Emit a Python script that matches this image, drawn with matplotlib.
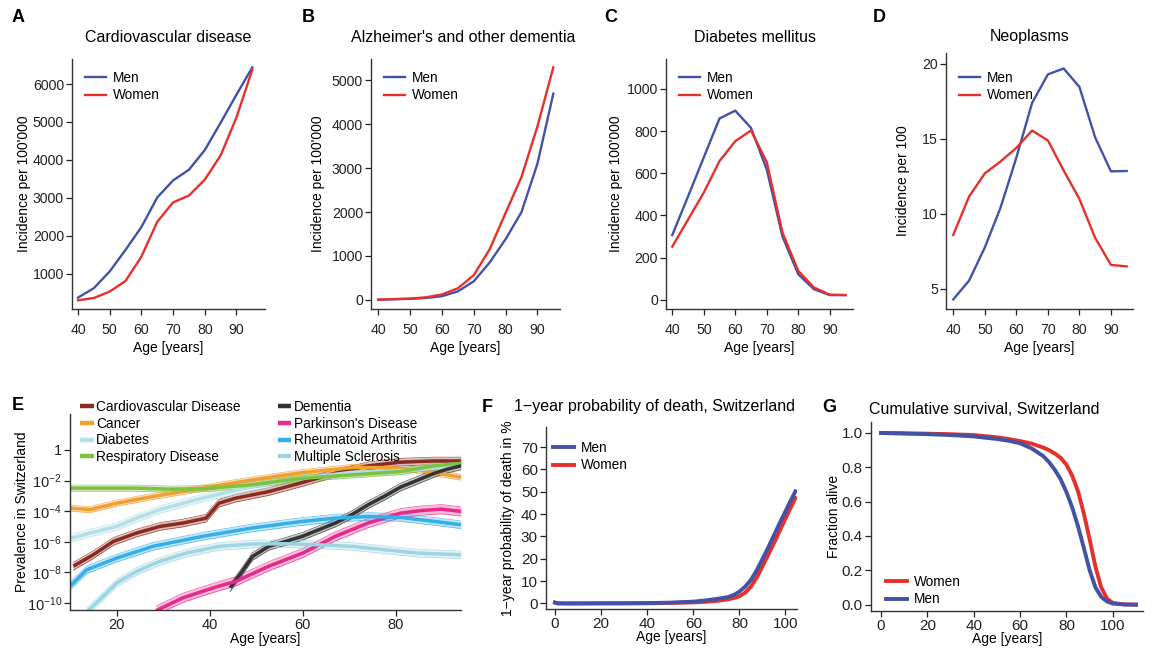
import numpy as np
import matplotlib
matplotlib.use("Agg")
from matplotlib import pyplot as plt

plt.rcParams['font.family'] = ['Liberation Sans', 'DejaVu Sans']
plt.rcParams['mathtext.default'] = 'regular'
plt.rcParams['axes.unicode_minus'] = True

BLUE = '#4252a6'
RED = '#e8302a'

# ---- incidence panels (A-D)
ages5 = [40, 45, 50, 55, 60, 65, 70, 75, 80, 85, 90, 95]

cvd_men = [370, 620, 1060, 1630, 2230, 3010, 3460, 3740, 4260, 4980, 5720, 6440]
cvd_women = [300, 360, 530, 810, 1450, 2370, 2880, 3060, 3480, 4120, 5120, 6380]

dem_men = [0, 10, 20, 40, 80, 190, 420, 850, 1380, 2000, 3100, 4700]
dem_women = [0, 15, 25, 55, 120, 260, 560, 1150, 1980, 2800, 3950, 5300]

dia_men = [307, 490, 675, 860, 897, 815, 618, 300, 121, 50, 22, 22]
dia_women = [252, 380, 508, 658, 752, 803, 653, 318, 137, 58, 24, 22]

neo_men = [4.3, 5.55, 7.76, 10.42, 13.75, 17.4, 19.3, 19.7, 18.47, 15.1, 12.84, 12.86]
neo_women = [8.6, 11.15, 12.7, 13.5, 14.4, 15.56, 14.9, 12.9, 11.0, 8.4, 6.6, 6.5]

# ---- prevalence panel (E), values are log10(prevalence)
e_cvd_age = [10.7, 15, 19.3, 24.3, 29.3, 34.2, 39.2, 42, 45.6, 52.7, 59.9, 67, 74, 81, 88, 94]
e_cvd = [-7.6, -6.85, -5.98, -5.43, -5.0, -4.78, -4.46, -3.48, -3.15, -2.72, -2.13, -1.52, -1.04, -0.8, -0.72, -0.72]

e_can_age = [10, 14.3, 20, 27.8, 38.4, 49.1, 59.9, 70.5, 77.6, 84.7, 94]
e_can = [-3.8, -3.9, -3.48, -3.04, -2.5, -1.96, -1.48, -1.15, -1.15, -1.3, -1.78]

e_dia_age = [10, 14.3, 20, 24.3, 29.3, 38.4, 49.1, 59.9, 70.5, 77.6, 84.7, 94]
e_dia = [-5.8, -5.43, -5.0, -4.46, -3.9, -3.15, -2.4, -1.85, -1.46, -1.41, -1.3, -0.98]

e_res_age = [10, 24.3, 31.4, 38.4, 49.1, 59.9, 70.5, 81, 88.3, 94]
e_res = [-2.5, -2.5, -2.56, -2.54, -2.28, -1.85, -1.63, -1.41, -1.04, -0.87]

e_dem_age = [44.4, 47, 49.2, 52.7, 56.3, 59.9, 63.4, 67, 70.5, 74, 77.7, 81, 84.8, 88.3, 91, 94]
e_dem = [-9.0, -7.93, -6.96, -6.3, -5.98, -5.65, -5.22, -4.78, -4.24, -3.59, -3.0, -2.43, -1.96, -1.52, -1.26, -1.04]

e_par_age = [28.5, 34.2, 38.5, 42, 45.6, 52.7, 60, 67, 74, 81, 85.5, 89.8, 94]
e_par = [-10.5, -9.67, -9.24, -8.9, -8.59, -7.6, -6.74, -5.65, -4.78, -4.13, -3.96, -3.87, -4.02]

e_ra_age = [10, 13.6, 20, 27.8, 38.4, 49.1, 59.9, 67, 74, 81, 88.3, 94]
e_ra = [-8.9, -7.83, -7.07, -6.3, -5.65, -5.1, -4.67, -4.46, -4.35, -4.41, -4.67, -4.89]

e_ms_age = [13.6, 20, 24.3, 29.3, 35, 42, 49.1, 56.3, 63.4, 70.5, 77.6, 84.7, 94]
e_ms = [-10.6, -8.7, -7.93, -7.28, -6.74, -6.3, -6.15, -6.13, -6.2, -6.3, -6.52, -6.74, -6.85]

# ---- mortality (F) and survival (G)
f_age = [0, 1, 5, 10, 20, 30, 40, 50, 60, 65, 70, 75, 78, 80, 82.5, 85, 87.5, 90, 92.5, 95, 97.5, 100, 102, 104.3]
f_men = [0.4, 0.05, 0.0, 0.0, 0.05, 0.07, 0.15, 0.35, 0.8, 1.3, 2.0, 2.8, 4.0, 5.3, 7.5, 10.5, 14.8, 19.8, 25.0, 30.5, 36.0, 41.2, 45.5, 50.2]
f_women = [0.35, 0.04, 0.0, 0.0, 0.02, 0.03, 0.08, 0.2, 0.45, 0.7, 1.1, 1.8, 2.5, 3.2, 4.8, 7.5, 11.5, 16.5, 21.8, 27.0, 32.5, 38.0, 42.3, 47.2]

g_age = [0, 10, 20, 30, 40, 50, 55, 60, 65, 70, 72.5, 75, 77.5, 80, 82.5, 85, 87.5, 90, 92.5, 95, 97.5, 100, 105, 110]
g_women = [1.0, 0.998, 0.996, 0.993, 0.988, 0.975, 0.965, 0.953, 0.938, 0.915, 0.9, 0.88, 0.855, 0.815, 0.75, 0.66, 0.53, 0.38, 0.22, 0.1, 0.035, 0.01, 0.001, 0.0]
g_men = [1.0, 0.997, 0.993, 0.988, 0.98, 0.965, 0.955, 0.94, 0.91, 0.865, 0.83, 0.785, 0.73, 0.655, 0.565, 0.455, 0.33, 0.2, 0.1, 0.045, 0.018, 0.006, 0.001, 0.0]

W, H = 1152, 659
fig = plt.figure(figsize=(W / 100, H / 100), dpi=100)


def add_ax(l, t, r, b, tsize, xpad):
    ax = fig.add_axes([l / W, 1 - b / H, (r - l) / W, (b - t) / H])
    for s in ['top', 'right']:
        ax.spines[s].set_visible(False)
    for s in ['left', 'bottom']:
        ax.spines[s].set_color('#333333')
        ax.spines[s].set_linewidth(1.0)
    ax.tick_params(colors='#222222', length=4.3, width=0.9, labelsize=tsize)
    ax.tick_params(axis='x', pad=xpad)
    ax.tick_params(axis='y', pad=1.5)
    return ax


def label(x, y, s):
    fig.text(x / W, 1 - y / H, s, fontsize=13, fontweight='bold', ha='left', va='center')


def title(x, y, s):
    fig.text(x / W, 1 - y / H, s, fontsize=11.5, ha='center', va='center')


LEG = dict(frameon=False, fontsize=9.8, handlelength=1.55, handletextpad=0.5,
           labelspacing=0.25, borderaxespad=0, borderpad=0)

top = [
    ((72, 59, 265, 309), cvd_men, cvd_women, (70, 6660), range(1000, 7000, 1000),
     (38.1, 99), "Incidence per 100'000", 'Cardiovascular disease', 168, 'A', 12, 1.5),
    ((371, 59, 560, 309), dem_men, dem_women, (-212, 5490), range(0, 6000, 1000),
     (37.7, 97.1), "Incidence per 100'000", "Alzheimer's and other dementia", 463, 'B', 302, 5),
    ((666, 59, 853, 309), dia_men, dia_women, (-44, 1142), range(0, 1200, 200),
     (38, 97.4), "Incidence per 100'000", 'Diabetes mellitus', 755, 'C', 604, 2.5),
    ((946, 53, 1133, 309), neo_men, neo_women, (3.66, 20.73), [5, 10, 15, 20],
     (37.7, 97), 'Incidence per 100', 'Neoplasms', 1030, 'D', 873, 9),
]

for rect, men, women, ylim, yt, xlim, ylab, ttl, tx, let, lx, ylp in top:
    ax = add_ax(*rect, tsize=10.2, xpad=5.5)
    ax.plot(ages5, men, color=BLUE, lw=1.7, label='Men')
    ax.plot(ages5, women, color=RED, lw=1.7, label='Women')
    ax.set_xlim(*xlim)
    ax.set_ylim(*ylim)
    ax.set_xticks(range(40, 100, 10))
    ax.set_yticks(list(yt))
    ax.set_xlabel('Age [years]', fontsize=10, labelpad=3)
    ax.set_ylabel(ylab, fontsize=10, labelpad=ylp)
    l0 = rect[0]
    ax.legend(loc='upper left', bbox_to_anchor=((l0 + 13) / W, 1 - 71 / H),
              bbox_transform=fig.transFigure, **LEG)
    title(tx, 37, ttl)
    label(lx, 17, let)

# ---- panel E
ax = add_ax(70, 414, 461, 610, tsize=10.5, xpad=1.5)
series = [
    ('Cardiovascular Disease', e_cvd_age, e_cvd, '#8b2a20', 0.25),
    ('Cancer', e_can_age, e_can, '#f0a030', 0.2),
    ('Diabetes', e_dia_age, e_dia, '#b3dfe9', 0.25),
    ('Respiratory Disease', e_res_age, e_res, '#7dc242', 0.2),
    ('Dementia', e_dem_age, e_dem, '#333333', 0.25),
    ("Parkinson's Disease", e_par_age, e_par, '#e8288a', 0.3),
    ('Rheumatoid Arthritis', e_ra_age, e_ra, '#36aee8', 0.25),
    ('Multiple Sclerosis', e_ms_age, e_ms, '#9ed5e0', 0.25),
]
for name, a, v, c, hw in series:
    a = np.array(a)
    v = np.array(v)
    lo = 10 ** (v - hw)
    hi = 10 ** (v + hw)
    ax.fill_between(a, lo, hi, color=c, alpha=0.3, lw=0)
    ax.plot(a, lo, color=c, lw=0.5, alpha=0.8)
    ax.plot(a, hi, color=c, lw=0.5, alpha=0.8)
for name, a, v, c, hw in series:
    ax.plot(a, 10 ** np.array(v), color=c, lw=2.5, label=name, solid_capstyle='butt')
ax.set_yscale('log')
ax.set_xlim(10, 94)
ax.set_ylim(10 ** -10.46, 10 ** 2.35)
ax.set_xticks([20, 40, 60, 80])
ax.set_yticks([10.0 ** k for k in range(0, -11, -2)])
ax.set_yticklabels(['1'] + [r'$10^{%d}$' % k for k in range(-2, -11, -2)])
ax.minorticks_off()
ax.set_xlabel('Age [years]', fontsize=10, labelpad=0)
ax.set_ylabel('Prevalence in Switzerland', fontsize=10, labelpad=-2)
leg = ax.legend(loc='upper left', bbox_to_anchor=(80 / W, 1 - 400 / H),
                bbox_transform=fig.transFigure, ncol=2, frameon=False, fontsize=9.8,
                handlelength=1.0, handletextpad=0.2, labelspacing=0.2,
                columnspacing=2.7, borderaxespad=0, borderpad=0)
for ln in leg.get_lines():
    ln.set_linewidth(3.2)
label(12, 405, 'E')

# ---- panel F
ax = add_ax(546, 427, 797, 609, tsize=11, xpad=1.5)
ax.plot(f_age, f_women, color=RED, lw=2.8, label='Women')
ax.plot(f_age, f_men, color=BLUE, lw=2.8, label='Men')
ax.set_xlim(-3.9, 105)
ax.set_ylim(-2.5, 79)
ax.set_xticks(range(0, 101, 20))
ax.set_yticks(range(0, 71, 10))
ax.set_xlabel('Age [years]', fontsize=10, labelpad=-1)
ax.set_ylabel('1\u2212year probability of death in %', fontsize=10, labelpad=4.5)
h, l = ax.get_legend_handles_labels()
ax.legend(h[::-1], l[::-1], loc='upper left', bbox_to_anchor=(553 / W, 1 - 441 / H),
          bbox_transform=fig.transFigure, **LEG)
title(655, 407, '1\u2212year probability of death, Switzerland')
label(482, 407, 'F')

# ---- panel G
ax = add_ax(871, 422, 1143, 611, tsize=11, xpad=1.5)
ax.plot(g_age, g_women, color=RED, lw=2.8, label='Women')
ax.plot(g_age, g_men, color=BLUE, lw=2.8, label='Men')
ax.set_xlim(-4.3, 113)
ax.set_ylim(-0.037, 1.064)
ax.set_xticks(range(0, 101, 20))
ax.set_yticks([0, 0.2, 0.4, 0.6, 0.8, 1.0])
ax.set_yticklabels(['0.0', '0.2', '0.4', '0.6', '0.8', '1.0'])
ax.set_xlabel('Age [years]', fontsize=10, labelpad=-1)
ax.set_ylabel('Fraction alive', fontsize=10, labelpad=0.5)
ax.legend(loc='upper left', bbox_to_anchor=(886 / W, 1 - 575 / H),
          bbox_transform=fig.transFigure, **LEG)
title(984, 410, 'Cumulative survival, Switzerland')
label(822, 407, 'G')

fig.savefig('out.png', dpi=100)
